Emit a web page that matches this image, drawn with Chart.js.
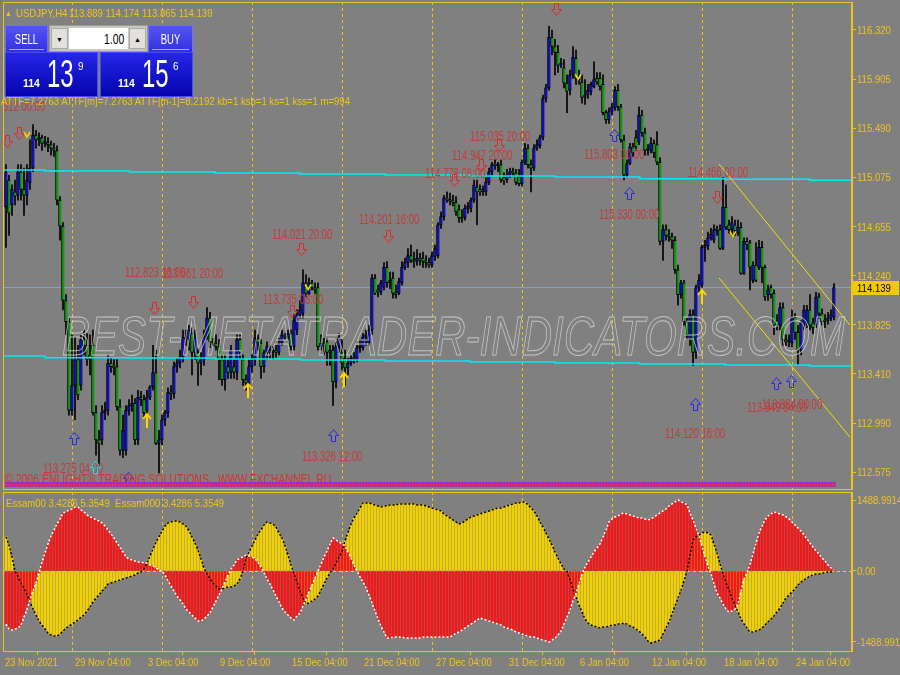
<!DOCTYPE html>
<html>
<head>
<meta charset="utf-8">
<style>
  body { margin: 0; padding: 0; background: #808080; }
  #wrap { position: relative; width: 900px; height: 675px; overflow: hidden; background: #808080;
          font-family: Arial, "Liberation Sans", sans-serif; }
  #main { position: absolute; left: 0; top: 0; }
  #osc { position: absolute; left: 0; top: 490px; }
  .txt { position: absolute; color: #ecc51a; font-size: 11px; white-space: pre; line-height: 14px;
         transform: scaleX(0.87); transform-origin: 0 0; }
  .tp { position: absolute; box-sizing: border-box; color: #fff; }
  .tbtn { background: linear-gradient(#5454f6, #3232de); border: 1px solid #7070ff; }
  .tbtn b { position: absolute; left: 0; right: 0; top: 5px; text-align: center; font-weight: normal;
            font-size: 14px; line-height: 16px; transform: scaleX(0.68); }
  .tbtn i { position: absolute; left: 3px; right: 3px; bottom: 2px; height: 1px; background: #a8a8ff; }
  .lot { background: #c9c6c0; border: 1px solid #9a9a9a; }
  .spin { position: absolute; top: 2px; width: 17px; height: 21px; background: #e2e0dc; color: #000;
          font-size: 7px; text-align: center; line-height: 21px; border: 1px solid #aaa; box-sizing: border-box; }
  .field { position: absolute; left: 19px; top: 2px; width: 59px; height: 21px; background: #fff; }
  .field b { position: absolute; right: 4px; top: 3px; color: #000; font-weight: normal; font-size: 14px;
             line-height: 16px; transform: scaleX(0.74); transform-origin: 100% 0; }
  .pbox { background: linear-gradient(#2626e8, #0404ae); border: 1px solid #4848ff; }
  .pbox span { position: absolute; line-height: 1; transform-origin: 0 0; }
  .pbox .s { font-size: 11px; font-weight: bold; top: 25px; left: 17px; transform: scaleX(0.95); }
  .pbox .b { font-size: 38px; top: 2px; left: 41px; transform: scaleX(0.63); }
  .pbox .e { font-size: 11px; top: 8px; left: 72px; transform: scaleX(0.9); }
</style>
<script src="https://cdn.jsdelivr.net/npm/chart.js"></script>
</head>
<body>
<div id="wrap">
  <canvas id="main" width="900" height="490"></canvas>
  <canvas id="osc" width="900" height="185"></canvas>

  <div class="txt" style="left:5px;top:7px;font-size:8px;">▲</div>
  <div class="txt" style="left:16px;top:6px;">USDJPY,H4</div>
  <div class="txt" style="left:69px;top:6px;">113.889 114.174 113.865 114.139</div>
  <div class="txt" style="left:1px;top:94px;">ATTF=7.2763 ATTF[m]=7.2763 ATTF[m-1]=8.2192 kb=1 ksb=1 ks=1 kss=1 m=994</div>
  <div class="txt" style="left:6px;top:496px;">Essam00 3.4286 5.3549  Essam000 3.4286 5.3549</div>

  <!-- one click trading panel -->
  <div class="tp tbtn" style="left:5px;top:25px;width:43px;height:28px;"><b>SELL</b><i></i></div>
  <div class="tp lot" style="left:49px;top:25px;width:99px;height:27px;">
    <div class="spin" style="left:1px;">▼</div>
    <div class="field"><b>1.00</b></div>
    <div class="spin" style="left:79px;">▲</div>
  </div>
  <div class="tp tbtn" style="left:148px;top:25px;width:45px;height:28px;"><b>BUY</b><i></i></div>
  <div class="tp pbox" style="left:5px;top:52px;width:93px;height:45px;">
    <span class="s">114</span><span class="b">13</span><span class="e">9</span>
  </div>
  <div class="tp pbox" style="left:100px;top:52px;width:93px;height:45px;">
    <span class="s">114</span><span class="b">15</span><span class="e">6</span>
  </div>
</div>

<script>
// ---- USDJPY H4 candles, 23 Nov 2021 .. 25 Jan 2022
const opens = [
  114.82,115.05,114.84,114.95,114.92,115.12,114.97,114.92,115.03,115.15,115.43,115.39,115.41,115.36,
  115.36,115.35,115.32,115.30,114.88,114.66,114.03,113.85,113.10,113.31,
  113.53,113.31,113.70,113.65,113.57,113.65,113.08,112.85,112.85,113.08,
  113.10,113.50,113.47,113.47,113.13,112.76,112.76,113.10,113.14,113.16,
  112.85,113.21,113.19,113.10,113.21,113.30,113.42,112.82,112.85,113.02,
  113.08,113.25,113.24,113.47,113.50,113.55,113.72,113.70,113.75,113.59,
  113.59,113.50,113.53,113.72,113.88,113.68,113.67,113.64,113.53,113.36,
  113.47,113.42,113.47,113.42,113.70,113.53,113.36,113.33,113.47,113.53,
  113.71,113.67,113.47,113.59,113.61,113.59,113.61,113.59,113.67,113.74,
  113.72,113.75,113.64,
  113.78,113.91,113.92,114.18,114.09,114.18,114.14,114.14,113.64,113.67,
  113.68,113.59,113.61,113.34,113.64,113.59,113.54,113.46,113.50,113.54,
  113.53,113.63,113.63,113.72,113.67,113.78,114.22,114.12,114.10,114.14,
  114.31,114.18,114.22,114.09,114.09,114.18,114.31,114.35,114.41,114.37,
  114.36,114.39,
  114.39,114.36,114.35,114.33,114.40,114.41,114.67,114.74,114.90,114.88,
  114.88,114.86,114.80,114.73,114.73,114.81,114.81,114.88,114.99,114.97,
  114.95,114.95,115.03,115.12,115.18,115.17,115.18,115.07,115.05,115.09,
  115.12,115.11,115.08,115.02,115.20,115.32,115.18,115.15,115.32,115.34,
  115.41,115.74,115.83,116.26,116.18,116.13,116.02,116.00,115.87,115.81,
  115.94,116.08,115.91,115.88,115.75,115.77,115.80,115.84,115.91,115.91,
  115.86,115.62,115.56,115.63,115.66,115.81,115.67,115.39,115.09,115.19,115.33,
  115.41,115.37,115.60,115.45,115.30,115.30,115.36,115.35,115.20,114.53,
  114.63,114.58,114.57,114.54,114.29,114.08,114.18,113.85,113.70,113.91,
  113.59,114.14,114.16,114.48,114.49,114.56,114.54,114.63,114.63,114.47,
  114.82,114.67,114.63,114.67,114.60,114.65,114.26,114.53,114.52,114.20,
  114.33,114.31,114.48,114.31,114.08,114.14,114.09,113.86,113.82,113.97,
  113.70,113.68,113.67,113.89,113.76,113.61,113.82,113.84,113.95,113.84,
  113.82,114.06,113.92,113.86,113.86,113.88,113.889
];
const highs = [
  115.18,115.09,115.01,115.05,115.18,115.18,115.15,115.18,115.39,115.52,115.47,115.45,115.43,115.42,
  115.41,115.38,115.36,115.34,114.91,114.69,114.08,113.88,113.74,113.72,
  113.65,113.74,113.78,113.75,113.74,113.78,113.14,112.93,113.14,113.17,
  113.57,113.54,113.53,113.53,113.19,113.06,113.14,113.19,113.23,113.20,
  113.27,113.26,113.23,113.27,113.31,113.65,113.61,112.93,113.06,113.10,
  113.29,113.31,113.51,113.54,113.61,113.78,113.78,113.82,113.80,113.78,
  113.63,113.59,113.78,113.97,113.93,113.71,113.74,113.70,113.57,113.57,
  113.53,113.65,113.53,113.74,113.74,113.57,113.40,113.53,113.57,113.78,
  113.74,113.70,113.61,113.68,113.65,113.64,113.65,113.71,113.78,113.75,
  113.78,113.78,113.91,
  113.95,114.03,114.29,114.25,114.22,114.20,114.18,114.18,113.74,113.71,
  113.71,113.65,113.65,113.68,113.75,113.70,113.61,113.54,113.57,113.59,
  113.65,113.70,113.75,113.78,113.82,114.25,114.25,114.16,114.20,114.35,
  114.36,114.27,114.27,114.16,114.22,114.36,114.39,114.47,114.50,114.44,
  114.46,114.43,
  114.44,114.41,114.39,114.44,114.50,114.69,114.78,114.92,114.95,114.94,
  114.92,114.91,114.84,114.80,114.84,114.86,114.90,115.05,115.05,115.01,
  115.00,115.07,115.15,115.20,115.22,115.20,115.22,115.11,115.14,115.15,
  115.15,115.14,115.14,115.22,115.36,115.35,115.22,115.35,115.39,115.43,
  115.77,115.86,116.35,116.32,116.24,116.19,116.08,116.07,115.94,115.98,
  116.18,116.15,115.98,115.94,115.90,115.86,115.88,116.05,115.96,115.96,
  115.94,115.64,115.66,115.70,115.84,115.86,115.69,115.43,115.22,115.36,115.36,
  115.47,115.67,115.64,115.49,115.35,115.41,115.39,115.46,115.24,114.67,
  114.67,114.63,114.60,114.57,114.33,114.20,114.20,113.88,113.95,113.95,
  114.16,114.25,114.50,114.54,114.61,114.64,114.67,114.66,114.67,115.07,
  115.01,114.71,114.74,114.71,114.71,114.69,114.56,114.56,114.54,114.36,
  114.52,114.54,114.53,114.33,114.16,114.16,114.12,113.91,114.01,114.01,
  113.74,113.74,113.95,113.92,113.82,113.86,113.99,113.99,114.08,113.88,
  114.10,114.09,113.96,113.91,113.93,113.95,114.174
];
const lows = [
  114.48,114.58,114.75,114.84,114.88,114.88,114.75,114.84,114.97,115.12,115.32,115.34,115.30,115.33,
  115.29,115.26,115.25,114.84,114.54,113.95,113.74,113.06,113.06,113.02,
  113.19,113.27,113.57,113.48,113.40,113.06,112.72,112.62,112.81,113.02,
  113.06,113.42,113.40,113.10,112.72,112.70,112.72,113.06,113.09,112.81,
  112.81,113.14,113.04,113.06,113.19,113.27,112.81,112.57,112.81,112.97,
  113.04,113.19,113.20,113.42,113.46,113.51,113.65,113.61,113.40,113.53,
  113.31,113.40,113.48,113.70,113.63,113.65,113.61,113.36,113.31,113.27,
  113.37,113.37,113.37,113.36,113.53,113.31,113.27,113.29,113.42,113.48,
  113.61,113.37,113.42,113.53,113.54,113.53,113.55,113.57,113.65,113.70,
  113.70,113.61,113.61,
  113.74,113.88,113.88,114.06,114.08,114.12,114.09,113.61,113.61,113.57,
  113.48,113.48,113.14,113.29,113.59,113.44,113.31,113.40,113.48,113.50,
  113.51,113.59,113.61,113.65,113.65,113.74,114.08,114.06,114.08,114.12,
  114.14,114.13,114.05,114.05,114.08,114.16,114.29,114.31,114.35,114.31,
  114.33,114.33,
  114.31,114.31,114.31,114.31,114.37,114.39,114.64,114.71,114.86,114.84,
  114.83,114.75,114.69,114.69,114.71,114.77,114.78,114.86,114.67,114.92,
  114.92,114.92,115.01,115.09,115.14,115.12,115.03,115.01,115.03,115.07,
  115.08,115.01,115.00,115.00,115.18,115.15,114.95,115.13,115.30,115.32,
  115.39,115.71,115.81,116.11,115.94,115.96,116.00,115.83,115.62,115.77,
  115.91,115.86,115.86,115.70,115.69,115.74,115.77,115.83,115.86,115.81,
  115.60,115.53,115.53,115.60,115.64,115.64,115.37,115.05,115.07,115.18,115.25,
  115.30,115.35,115.42,115.26,115.26,115.28,115.24,115.18,114.50,114.37,
  114.54,114.53,114.47,114.26,113.99,114.05,113.82,113.70,113.65,113.48,
  113.54,114.10,114.14,114.36,114.46,114.54,114.52,114.58,114.46,114.46,
  114.63,114.60,114.58,114.58,114.58,114.25,114.25,114.46,114.12,114.18,
  114.19,114.29,114.18,114.03,114.03,114.05,113.74,113.78,113.78,113.65,
  113.65,113.64,113.64,113.70,113.48,113.57,113.78,113.80,113.78,113.75,
  113.80,113.88,113.82,113.80,113.83,113.86,113.865
];
const closes = [
  115.12,114.77,114.97,114.91,115.12,114.97,114.92,115.05,115.15,115.43,115.39,115.41,115.36,115.38,
  115.35,115.32,115.30,114.88,114.66,114.03,113.85,113.10,113.31,113.53,
  113.23,113.70,113.65,113.53,113.53,113.08,112.85,112.82,113.08,113.10,
  113.50,113.47,113.46,113.13,112.76,112.93,113.10,113.14,113.16,112.85,
  113.21,113.19,113.08,113.21,113.30,113.42,112.82,112.85,113.02,113.08,
  113.25,113.24,113.47,113.50,113.55,113.72,113.70,113.78,113.59,113.72,
  113.50,113.53,113.72,113.88,113.68,113.67,113.64,113.53,113.36,113.53,
  113.42,113.61,113.42,113.70,113.59,113.36,113.33,113.47,113.53,113.71,
  113.67,113.47,113.59,113.64,113.59,113.60,113.59,113.67,113.74,113.72,
  113.75,113.64,113.86,
  113.91,113.95,114.18,114.09,114.18,114.14,114.12,113.64,113.67,113.65,
  113.59,113.61,113.34,113.64,113.71,113.50,113.46,113.50,113.54,113.53,
  113.63,113.64,113.72,113.74,113.78,114.22,114.09,114.10,114.18,114.31,
  114.18,114.20,114.09,114.08,114.19,114.31,114.35,114.41,114.37,114.36,
  114.39,114.37,
  114.36,114.35,114.33,114.41,114.47,114.67,114.74,114.90,114.88,114.87,
  114.86,114.78,114.73,114.72,114.81,114.82,114.88,115.01,114.95,114.95,
  114.97,115.03,115.12,115.18,115.17,115.18,115.05,115.04,115.09,115.12,
  115.11,115.03,115.02,115.20,115.32,115.18,115.15,115.32,115.35,115.41,
  115.74,115.83,116.26,116.18,116.13,116.02,116.04,115.87,115.80,115.94,
  116.09,115.91,115.90,115.75,115.77,115.81,115.86,115.90,115.88,115.84,
  115.62,115.56,115.63,115.67,115.81,115.67,115.39,115.09,115.19,115.33,115.28,
  115.33,115.60,115.45,115.30,115.31,115.36,115.28,115.20,114.53,114.63,
  114.58,114.57,114.54,114.29,114.08,114.18,113.85,113.74,113.91,113.59,
  114.14,114.20,114.48,114.49,114.56,114.59,114.63,114.62,114.47,114.82,
  114.65,114.63,114.69,114.62,114.65,114.26,114.53,114.50,114.31,114.33,
  114.20,114.48,114.31,114.06,114.12,114.08,113.82,113.82,113.97,113.70,
  113.68,113.69,113.89,113.76,113.61,113.84,113.95,113.95,113.82,113.80,
  114.06,113.92,113.85,113.85,113.88,113.91,114.139
];

// ---- oscillator (Essam00 red / Essam000 yellow), one value per candle
const essamRed = [
  -1113,-1218,-1239,-1218,-1197,-1134,-966,-798,-609,-420,
  -252,-42,189,378,567,735,861,987,1092,1218,
  1239,1281,1302,1344,1344,1281,1239,1176,1134,1113,
  1071,1050,1008,945,861,777,693,588,504,399,
  294,252,231,210,189,189,168,168,126,105,
  63,21,0,-84,-210,-315,-420,-525,-609,-693,
  -798,-861,-924,-987,-1050,-1050,-1008,-945,-882,-756,
  -630,-504,-378,-231,-84,42,126,231,273,294,
  336,315,294,252,189,84,-42,-168,-273,-399,
  -525,-651,-777,-861,-924,-987,-1029,-945,-882,-735,
  -588,-441,-294,-147,0,147,294,420,567,693,
  651,609,567,525,399,273,126,0,-126,-231,
  -357,-504,-672,-840,-1008,-1155,-1281,-1407,-1407,-1386,
  -1386,-1386,-1386,-1407,-1407,-1407,-1407,-1407,-1407,-1386,
  -1386,-1386,-1386,-1386,-1386,-1386,-1386,-1386,-1386,-1344,
  -1302,-1281,-1239,-1197,-1155,-1113,-1071,-1029,-987,-1008,
  -1029,-1050,-1071,-1092,-1113,-1134,-1176,-1197,-1218,-1239,
  -1281,-1302,-1323,-1344,-1365,-1386,-1386,-1407,-1428,-1449,
  -1470,-1491,-1449,-1407,-1344,-1260,-1113,-966,-819,-630,
  -462,-273,-63,84,189,294,399,483,567,714,
  861,1029,1092,1134,1155,1197,1218,1197,1176,1155,
  1134,1113,1113,1092,1071,1092,1134,1176,1218,1260,
  1302,1365,1407,1449,1491,1449,1428,1386,1218,1071,
  903,735,525,294,105,-63,-273,-462,-567,-693,
  -798,-861,-840,-798,-693,-420,-168,-42,147,357,
  588,798,945,1071,1155,1197,1239,1218,1197,1176,
  1134,1092,1029,966,903,840,756,672,588,504,
  420,357,273,210,126,63,21
];
const essamYellow = [
  714,546,294,0,-126,-252,-357,-504,-651,-798,
  -924,-1050,-1134,-1218,-1302,-1344,-1365,-1365,-1323,-1260,
  -1197,-1155,-1113,-1071,-1029,-966,-924,-840,-756,-651,
  -567,-504,-420,-357,-273,-252,-231,-210,-189,-168,
  -147,-126,-105,-84,-42,-21,42,168,315,462,
  609,714,840,945,1008,1029,1050,1050,1029,987,
  945,840,714,588,441,252,63,-63,-168,-252,
  -315,-378,-378,-357,-336,-336,-315,-273,-168,0,
  273,399,525,651,777,861,966,1029,1008,987,
  924,798,693,525,336,126,-63,-231,-420,-567,
  -693,-672,-630,-588,-525,-399,-273,-147,-42,42,
  168,294,399,630,819,987,1113,1218,1323,1428,
  1428,1428,1407,1386,1365,1344,1365,1365,1386,1386,
  1386,1407,1407,1407,1407,1407,1407,1386,1386,1386,
  1365,1344,1323,1302,1281,1260,1197,1155,1113,1071,
  1029,987,1008,1050,1092,1134,1155,1176,1197,1218,
  1239,1260,1281,1302,1323,1323,1344,1365,1386,1407,
  1428,1428,1449,1449,1386,1323,1260,1155,1029,924,
  798,672,546,399,273,147,42,0,-189,-378,
  -546,-714,-861,-1008,-1092,-1134,-1155,-1176,-1197,-1176,
  -1176,-1155,-1134,-1134,-1113,-1113,-1092,-1113,-1155,-1176,
  -1218,-1260,-1323,-1386,-1470,-1512,-1491,-1470,-1449,-1323,
  -1197,-1071,-903,-735,-567,-399,-210,0,336,651,
  714,756,798,819,798,756,567,378,147,-63,
  -231,-399,-567,-714,-861,-1008,-1113,-1197,-1281,-1281,
  -1260,-1239,-1197,-1134,-1071,-1008,-945,-861,-777,-672,
  -567,-504,-441,-378,-294,-231,-189,-147,-105,-84,
  -63,-63,-42,-42,-21,-21,0
];

// ---- axes
const priceTicks = [116.320, 115.905, 115.490, 115.075, 114.655, 114.240, 113.825, 113.410, 112.990, 112.575];
const oscTicks = [1488.9914, 0, -1488.9914];
const oscTickLabels = ['1488.9914', '0.00', '-1488.9914'];
const timeTickBars = [-1, 22.3, 46.7, 70.7, 94.7, 118.7, 142.7, 167, 190.7, 214.7, 238.7, 262.7];
const timeLabels = ['23 Nov 2021', '29 Nov 04:00', '3 Dec 04:00', '9 Dec 04:00', '15 Dec 04:00', '21 Dec 04:00',
                    '27 Dec 04:00', '31 Dec 04:00', '6 Jan 04:00', '12 Jan 04:00', '18 Jan 04:00', '24 Jan 04:00'];
const gridBars = [22, 52, 82, 112, 142, 172, 202, 232, 262];
const bidPrice = 114.139;

// ---- support / resistance steps and the channel
const levelBreaks = [-1, 13, 41.3, 69.7, 98, 126.3, 154.7, 183, 211.3, 239.7, 268, 282];
const upperLevels = [115.135, 115.127, 115.118, 115.110, 115.101, 115.093, 115.084, 115.076, 115.060, 115.056, 115.047];
const lowerLevels = [113.560, 113.545, 113.543, 113.534, 113.526, 113.517, 113.509, 113.500, 113.492, 113.484, 113.475];
const channelTop = [{ x: 237.7, y: 115.185 }, { x: 281.3, y: 113.822 }];
const channelBottom = [{ x: 237.7, y: 114.220 }, { x: 281.3, y: 112.874 }];

// ---- signal arrows, small marks and fractal labels
const downArrowBars = [0.3, 4.3, 49.3, 62.3, 95.3, 98.3, 127.3, 149.3, 158.3, 164.3, 183.3, 237];
const downArrowPrices = [115.38, 115.45, 113.97, 114.02, 113.94, 114.47, 114.58, 115.05, 115.18, 115.35, 116.50, 114.91];
const upArrowBars = [22.7, 40.7, 109, 202.7, 207.7, 229.7, 256.7, 261.7];
const upArrowPrices = [112.87, 112.53, 112.89, 115.43, 114.94, 113.15, 113.33, 113.35];
const cyanArrowBars = [29.7];
const cyanArrowPrices = [112.62];
const yellowArrowBars = [47, 80.7, 112.7, 232];
const yellowArrowPrices = [113.01, 113.26, 113.36, 114.06];
const markBars = [7, 100.7, 190.7, 242.3];
const markPrices = [115.43, 114.14, 115.92, 114.59];
const labelTexts = ['113.275 04:00', '112.823 16:00', '113.661 20:00', '114.021 20:00', '113.735 08:00',
                    '113.326 12:00', '114.201 16:00', '114.778 08:00', '114.947 20:00', '115.035 20:00',
                    '115.803 00:00', '115.330 00:00', '114.466 00:00', '114.120 16:00', '113.849 04:00',
                    '113.884 00:00', '115.312 00:00'];
const labelBars = [12.3, 39.7, 52.3, 88.7, 85.7, 98.7, 117.7, 139.7, 148.7, 154.7, 192.7, 197.7, 227.3,
                   219.7, 247, 252, -7];
const labelPrices = [112.60, 114.26, 114.25, 114.58, 114.03, 112.70, 114.71, 115.10, 115.25, 115.41,
                     115.26, 114.75, 115.11, 112.90, 113.12, 113.14, 115.67];

const YEL = '#ecc51a';
const BULL = '#1010c0';
const BEAR = '#129c12';
const AXIS_FONT = '11px Arial, "Liberation Sans", sans-serif';
const LABEL_FONT = '14px Arial, "Liberation Sans", sans-serif';

const idx = closes.map((_, i) => i);

// condensed text, as the terminal font is narrower than Arial
function narrowText(ctx, text, x, y, font, color, sx) {
  ctx.save();
  ctx.font = font;
  ctx.fillStyle = color;
  ctx.textBaseline = 'middle';
  ctx.translate(x, y);
  ctx.scale(sx, 1);
  ctx.fillText(text, 0, 0);
  ctx.restore();
}

function hollowArrow(ctx, x, y, dir, color) {
  ctx.save();
  ctx.translate(Math.round(x) + 0.5, Math.round(y) + 0.5);
  ctx.scale(1, dir);
  ctx.beginPath();
  ctx.moveTo(-2, -6); ctx.lineTo(2, -6); ctx.lineTo(2, 0); ctx.lineTo(5, 0);
  ctx.lineTo(0, 6); ctx.lineTo(-5, 0); ctx.lineTo(-2, 0); ctx.closePath();
  ctx.strokeStyle = color;
  ctx.lineWidth = 1;
  ctx.stroke();
  ctx.restore();
}

function lineArrow(ctx, x, y, color) {
  ctx.save();
  ctx.translate(Math.round(x), Math.round(y));
  ctx.strokeStyle = color;
  ctx.lineWidth = 2;
  ctx.beginPath();
  ctx.moveTo(0, 7); ctx.lineTo(0, -6);
  ctx.moveTo(-4, -2); ctx.lineTo(0, -7); ctx.lineTo(4, -2);
  ctx.stroke();
  ctx.restore();
}

function smallMark(ctx, x, y) {
  ctx.save();
  ctx.strokeStyle = '#ffd800';
  ctx.lineWidth = 1.5;
  ctx.beginPath();
  ctx.moveTo(x - 3, y - 3); ctx.lineTo(x, y + 2); ctx.lineTo(x + 3, y - 3);
  ctx.stroke();
  ctx.restore();
}

function drawFrame(ctx, a) {
  ctx.save();
  ctx.strokeStyle = YEL;
  ctx.lineWidth = 1;
  ctx.strokeRect(a.left + 0.5, a.top + 0.5, a.right - a.left - 1, a.bottom - a.top);
  ctx.restore();
}

function drawGrid(chart) {
  const { ctx, chartArea: a, scales: { x } } = chart;
  ctx.save();
  ctx.strokeStyle = YEL;
  ctx.lineWidth = 1;
  ctx.setLineDash([3, 3]);
  gridBars.forEach(b => {
    const px = Math.round(x.getPixelForValue(b)) + 0.5;
    ctx.beginPath(); ctx.moveTo(px, a.top); ctx.lineTo(px, a.bottom); ctx.stroke();
  });
  ctx.restore();
}

function drawYLabels(chart, labelFor) {
  const s = chart.scales.y;
  s.ticks.forEach((t, k) => {
    narrowText(chart.ctx, labelFor(t.value, k), s.left + 5, Math.round(s.getPixelForValue(t.value)) + 1, AXIS_FONT, YEL, 0.87);
  });
}

const mainDecor = {
  id: 'mainDecor',
  beforeDatasetsDraw(chart) { drawGrid(chart); },
  afterDatasetsDraw(chart) {
    const { ctx, chartArea: a, scales: { x, y } } = chart;
    ctx.save();
    ctx.beginPath();
    ctx.rect(a.left, a.top, a.right - a.left, a.bottom - a.top);
    ctx.clip();

    // fractal labels
    labelTexts.forEach((t, k) => {
      narrowText(ctx, t, x.getPixelForValue(labelBars[k]), y.getPixelForValue(labelPrices[k]), LABEL_FONT, '#c23b3b', 0.68);
    });

    // arrows and marks
    downArrowBars.forEach((b, k) => hollowArrow(ctx, x.getPixelForValue(b), y.getPixelForValue(downArrowPrices[k]), 1, '#e02828'));
    upArrowBars.forEach((b, k) => hollowArrow(ctx, x.getPixelForValue(b), y.getPixelForValue(upArrowPrices[k]), -1, '#2828e6'));
    cyanArrowBars.forEach((b, k) => hollowArrow(ctx, x.getPixelForValue(b), y.getPixelForValue(cyanArrowPrices[k]), -1, '#00f0f0'));
    yellowArrowBars.forEach((b, k) => lineArrow(ctx, x.getPixelForValue(b), y.getPixelForValue(yellowArrowPrices[k]), '#ffd800'));
    markBars.forEach((b, k) => smallMark(ctx, x.getPixelForValue(b), y.getPixelForValue(markPrices[k])));

    // copyright line and the marker strip along the bottom
    narrowText(ctx, '© 2006 ENLIGHT® TRADING SOLUTIONS . WWW.FXCHANNEL.RU', 5, a.bottom - 9, LABEL_FONT, '#d83030', 0.75);
    const x1 = x.getPixelForValue(idx.length - 1);
    ctx.fillStyle = '#d8306a';
    ctx.fillRect(a.left + 2, a.bottom - 7, x1 - a.left, 5);
    ctx.fillStyle = '#6a3cf0';
    idx.forEach(i => {
      const px = Math.round(x.getPixelForValue(i));
      ctx.fillRect(px - 1, a.bottom - 7, 2, 2);
      ctx.fillRect(px, a.bottom - 4, 1, 2);
    });

    // watermark
    const wm = 'BEST-METATRADER-INDICATORS.COM';
    ctx.font = 'italic 56px Arial, sans-serif';
    const w = ctx.measureText(wm).width;
    ctx.translate(62, 355);
    ctx.scale(783 / w, 1);
    ctx.strokeStyle = 'rgba(212,212,212,0.8)';
    ctx.lineWidth = 1;
    ctx.strokeText(wm, 0, 0);
    ctx.restore();

    drawFrame(ctx, a);
  },
  afterDraw(chart) {
    const { ctx, chartArea: a, scales: { y } } = chart;
    drawYLabels(chart, v => v.toFixed(3));
    // current price tag
    const py = Math.round(y.getPixelForValue(bidPrice));
    ctx.save();
    ctx.fillStyle = '#f2c80f';
    ctx.fillRect(a.right + 1, py - 7, 46, 14);
    ctx.restore();
    narrowText(ctx, bidPrice.toFixed(3), a.right + 5, py + 1, AXIS_FONT, '#000', 0.87);
  }
};

const stepData = levels => levelBreaks.map((b, k) => ({ x: b, y: levels[Math.min(k, levels.length - 1)] }));

const hiddenTicks = { display: false };

new Chart(document.getElementById('main'), {
  type: 'bar',
  data: {
    datasets: [
      {
        label: 'wick',
        data: idx.map(i => ({ x: i, y: [lows[i], highs[i]] })),
        backgroundColor: '#000',
        barThickness: 1,
        grouped: false,
        order: 4
      },
      {
        label: 'body',
        data: idx.map(i => ({ x: i, y: [opens[i], closes[i]] })),
        backgroundColor: idx.map(i => closes[i] >= opens[i] ? BULL : BEAR),
        borderColor: '#000',
        borderWidth: { left: 1, right: 0, top: 1, bottom: 1 },
        borderSkipped: false,
        barThickness: 3,
        minBarLength: 2,
        grouped: false,
        order: 3
      },
      {
        type: 'line', label: 'bid',
        data: [{ x: -1, y: bidPrice }, { x: 282, y: bidPrice }],
        borderColor: '#8fa2bd', borderWidth: 1, pointRadius: 0, order: 5
      },
      {
        type: 'line', label: 'upper',
        data: stepData(upperLevels), stepped: true,
        borderColor: '#00ecf5', borderWidth: 1.5, pointRadius: 0, order: 1
      },
      {
        type: 'line', label: 'lower',
        data: stepData(lowerLevels), stepped: true,
        borderColor: '#00ecf5', borderWidth: 1.5, pointRadius: 0, order: 1
      },
      {
        type: 'line', label: 'channel top',
        data: channelTop, borderColor: '#f5e000', borderWidth: 1, pointRadius: 0, order: 0
      },
      {
        type: 'line', label: 'channel bottom',
        data: channelBottom, borderColor: '#f5e000', borderWidth: 1, pointRadius: 0, order: 0
      }
    ]
  },
  options: {
    responsive: false,
    animation: false,
    events: [],
    layout: { padding: { left: 3, top: 2, right: 0, bottom: 1 } },
    plugins: { legend: { display: false }, tooltip: { enabled: false } },
    scales: {
      x: { type: 'linear', min: -1, max: 282, offset: false, display: false },
      y: {
        position: 'right',
        min: 112.434, max: 116.557,
        afterBuildTicks: s => { s.ticks = priceTicks.map(v => ({ value: v })); },
        afterFit: s => { s.width = 48; },
        ticks: hiddenTicks,
        grid: { drawOnChartArea: false, tickLength: 4, color: YEL },
        border: { color: YEL }
      }
    }
  },
  plugins: [mainDecor]
});

const oscDecor = {
  id: 'oscDecor',
  beforeDatasetsDraw(chart) {
    const { ctx, chartArea: a, scales: { y } } = chart;
    drawGrid(chart);
    const py = Math.round(y.getPixelForValue(0)) + 0.5;
    ctx.save();
    ctx.strokeStyle = '#c8c8c8';
    ctx.setLineDash([3, 3]);
    ctx.beginPath(); ctx.moveTo(a.left, py); ctx.lineTo(a.right, py); ctx.stroke();
    ctx.restore();
  },
  afterDatasetsDraw(chart) { drawFrame(chart.ctx, chart.chartArea); },
  afterDraw(chart) {
    const s = chart.scales.x;
    drawYLabels(chart, (v, k) => oscTickLabels[k]);
    s.ticks.forEach((t, k) => {
      narrowText(chart.ctx, timeLabels[k], Math.round(s.getPixelForValue(t.value)) + 2, s.top + 12, AXIS_FONT, YEL, 0.85);
    });
  }
};

new Chart(document.getElementById('osc'), {
  type: 'bar',
  data: {
    datasets: [
      {
        type: 'line', label: 'red edge',
        data: idx.map(i => ({ x: i, y: essamRed[i] })),
        borderColor: '#ffffff', borderWidth: 1.5, borderDash: [2, 2], pointRadius: 0, order: 0
      },
      {
        type: 'line', label: 'yellow edge',
        data: idx.map(i => ({ x: i, y: essamYellow[i] })),
        borderColor: '#000000', borderWidth: 1.5, borderDash: [2, 2], pointRadius: 0, order: 1
      },
      {
        label: 'Essam00',
        data: idx.map(i => ({ x: i, y: essamRed[i] })),
        backgroundColor: '#f01818', barThickness: 2, grouped: false, order: 2
      },
      {
        label: 'Essam000',
        data: idx.map(i => ({ x: i, y: essamYellow[i] })),
        backgroundColor: '#f2d000', barThickness: 2, grouped: false, order: 3
      }
    ]
  },
  options: {
    responsive: false,
    animation: false,
    events: [],
    layout: { padding: { left: 3, top: 2, right: 0, bottom: 0 } },
    plugins: { legend: { display: false }, tooltip: { enabled: false } },
    scales: {
      x: {
        type: 'linear', min: -1, max: 282, offset: false,
        afterBuildTicks: s => { s.ticks = timeTickBars.map(v => ({ value: v })); },
        afterFit: s => { s.height = 24; },
        ticks: hiddenTicks,
        grid: { drawOnChartArea: false, tickLength: 4, color: YEL },
        border: { color: YEL }
      },
      y: {
        position: 'right',
        min: -1678, max: 1657,
        afterBuildTicks: s => { s.ticks = oscTicks.map(v => ({ value: v })); },
        afterFit: s => { s.width = 48; },
        ticks: hiddenTicks,
        grid: { drawOnChartArea: false, tickLength: 4, color: YEL },
        border: { color: YEL }
      }
    }
  },
  plugins: [oscDecor]
});
</script>
</body>
</html>
